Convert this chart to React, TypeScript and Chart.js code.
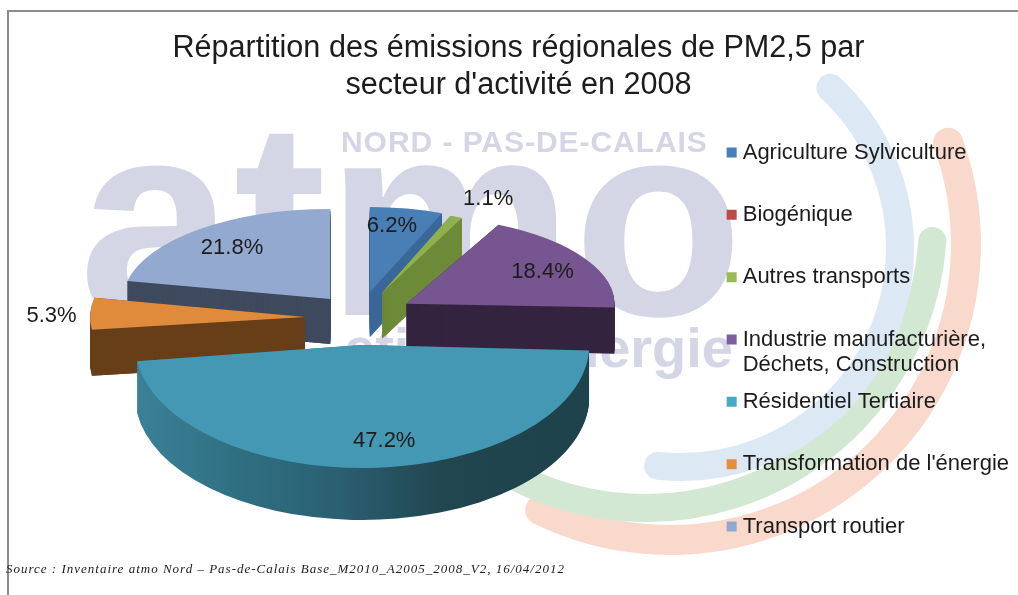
import React, { useEffect, useRef } from "react";
import { Chart, registerables } from "chart.js";

Chart.register(...registerables);

const categories = [
  "Agriculture Sylviculture",
  "Biogénique",
  "Autres transports",
  "Industrie manufacturière,",
  "Résidentiel Tertiaire",
  "Transformation de l'énergie",
  "Transport routier",
];
const legendSecondLine = ["", "", "", "Déchets, Construction", "", "", ""];
const shares = [6.2, 0, 1.1, 18.4, 47.2, 5.3, 21.8];
const shareLabels = ["6.2%", "", "1.1%", "18.4%", "47.2%", "5.3%", "21.8%"];

const titleLines = ["Répartition des émissions régionales de PM2,5 par", "secteur d'activité en 2008"];
const sourceNote = "Source : Inventaire atmo Nord – Pas-de-Calais Base_M2010_A2005_2008_V2, 16/04/2012";

const topColors = ["#4a7fb6", "#be4b48", "#8fb04e", "#775590", "#4498b3", "#e08a3c", "#93a9cf"];
const legendColors = ["#4a7ebb", "#be4b48", "#98b954", "#7d5fa0", "#46aac5", "#e58e3d", "#92a9cf"];
const wallColors = ["#39679a", "#8a3533", "#6d8a38", "#35243f", "#2d6a7f", "#673f18", "#3f4a5e"];
const residentialWallStops = ["#3c8197", "#2f6f82", "#2b5f72", "#214650", "#1f434d"];

// Pie geometry: projected radii, explosion and thickness of each slice.
const sliceRx = [190, 190, 180, 208, 227, 215, 207];
const sliceRy = [85, 85, 83, 88, 123, 97, 90];
const sliceExplode = [51, 51, 54, 54, 52, 55, 47];
const sliceDepth = [45, 45, 46, 46, 52, 46, 45];
const labelFx = [0.6, 0, 1.43, 0.76, 2.2, 1.18, 0.75];
const labelFy = [0.79, 0, 1.24, 0.72, 0.78, 0.4, 0.73];
const SQUASH = 0.52;
const PIE_CENTER = { x: 360, y: 318 };

const FONT = "'Liberation Sans', Arial, sans-serif";
const INK = "#1c1c1c";

const backdrop = {
  id: "backdrop",
  beforeDraw(chart: any) {
    const ctx = chart.ctx;
    ctx.save();
    ctx.lineCap = "round";
    const arcs = [
      { x: 670, y: 244, r: 296, w: 30, a: -20, b: 116, c: "#f9d9cc" },
      { x: 646, y: 221, r: 287, w: 28, a: 4, b: 125, c: "#d2e8d3" },
      { x: 681, y: 248, r: 219, w: 28, a: -47, b: 96, c: "#dce9f5" },
    ];
    for (const a of arcs) {
      ctx.strokeStyle = a.c;
      ctx.lineWidth = a.w;
      ctx.beginPath();
      ctx.arc(a.x, a.y, a.r, (a.a * Math.PI) / 180, (a.b * Math.PI) / 180);
      ctx.stroke();
    }
    ctx.fillStyle = "#d4d6e6";
    ctx.textBaseline = "alphabetic";
    ctx.textAlign = "left";
    ctx.font = `bold 278px ${FONT}`;
    ctx.fillText("atmo", 79, 315);
    ctx.font = `bold 30px ${FONT}`;
    ctx.letterSpacing = "0.95px";
    ctx.fillText("NORD - PAS-DE-CALAIS", 341, 152);
    ctx.letterSpacing = "0px";
    ctx.font = `bold 56px ${FONT}`;
    ctx.fillText("eti", 344, 367);
    ctx.textAlign = "right";
    ctx.fillText("énergie", 733, 367);
    ctx.fillStyle = "#8c8c8c";
    ctx.fillRect(7, 10, 2, 585);
    ctx.fillRect(7, 10, 1011, 2);
    ctx.restore();
  },
};

function sliceGeometry(chart: any) {
  const arcs = chart.getDatasetMeta(0).data;
  const out: any[] = [];
  arcs.forEach((arc: any, i: number) => {
    const p = arc.getProps(["x", "y", "startAngle", "endAngle", "outerRadius"], true);
    if (p.endAngle - p.startAngle <= 0) return;
    const mid = (p.startAngle + p.endAngle) / 2;
    out.push({
      i,
      arc,
      mid,
      start: p.startAngle,
      end: p.endAngle,
      R: p.outerRadius,
      ax: p.x,
      ay: p.y,
      tx: PIE_CENTER.x + sliceExplode[i] * Math.cos(mid),
      ty: PIE_CENTER.y + sliceExplode[i] * SQUASH * Math.sin(mid),
    });
  });
  return out;
}

const pie3d = {
  id: "pie3d",
  beforeDatasetsDraw(chart: any) {
    const ctx = chart.ctx;
    const slices = sliceGeometry(chart).sort((a, b) => Math.sin(a.mid) - Math.sin(b.mid));
    for (const s of slices) {
      const rx = sliceRx[s.i];
      const ry = sliceRy[s.i];
      const depth = sliceDepth[s.i];
      ctx.save();
      let wall: any = wallColors[s.i];
      if (s.i === 4) {
        const g = ctx.createLinearGradient(s.tx - rx, 0, s.tx + rx * 0.8, 0);
        residentialWallStops.forEach((c, k) => g.addColorStop(k / (residentialWallStops.length - 1), c));
        wall = g;
      }
      ctx.fillStyle = wall;
      // Cut faces of the exploded slice, from the tip to each outer corner.
      for (const angle of [s.start, s.end]) {
        const cx = s.tx + rx * Math.cos(angle);
        const cy = s.ty + ry * Math.sin(angle);
        ctx.beginPath();
        ctx.moveTo(s.tx, s.ty);
        ctx.lineTo(cx, cy);
        ctx.lineTo(cx, cy + depth);
        ctx.lineTo(s.tx, s.ty + depth);
        ctx.closePath();
        ctx.fill();
      }
      // Outer rim: the slice outline swept downward.
      for (let d = depth; d >= 1; d -= 1) {
        ctx.beginPath();
        ctx.moveTo(s.tx, s.ty + d);
        ctx.ellipse(s.tx, s.ty + d, rx, ry, 0, s.start, s.end);
        ctx.closePath();
        ctx.fill();
      }
      ctx.restore();
      ctx.save();
      ctx.translate(s.tx, s.ty);
      ctx.scale(rx / s.R, ry / s.R);
      ctx.translate(-s.ax, -s.ay);
      s.arc.draw(ctx);
      ctx.restore();
    }
    ctx.save();
    ctx.fillStyle = INK;
    ctx.font = `22px ${FONT}`;
    ctx.textAlign = "center";
    ctx.textBaseline = "middle";
    for (const s of slices) {
      const text = shareLabels[s.i];
      if (!text) continue;
      ctx.fillText(
        text,
        s.tx + Math.cos(s.mid) * sliceRx[s.i] * labelFx[s.i],
        s.ty + Math.sin(s.mid) * sliceRy[s.i] * labelFy[s.i]
      );
    }
    ctx.restore();
    return false;
  },
};

const notes = {
  id: "notes",
  afterDraw(chart: any) {
    const ctx = chart.ctx;
    ctx.save();
    ctx.fillStyle = INK;
    ctx.textAlign = "left";
    ctx.textBaseline = "middle";
    ctx.font = `22px ${FONT}`;
    chart.legend.legendHitBoxes.forEach((box: any, i: number) => {
      const extra = legendSecondLine[i];
      if (extra) ctx.fillText(extra, box.left + 11.1, box.top + box.height / 2 + 25);
    });
    ctx.font = `italic 13px 'Liberation Serif', serif`;
    ctx.letterSpacing = "1px";
    ctx.fillText(sourceNote, 6, 570);
    ctx.restore();
  },
};

export default function App() {
  const ref = useRef<HTMLCanvasElement>(null);
  useEffect(() => {
    const chart = new Chart(ref.current as HTMLCanvasElement, {
      type: "pie",
      data: {
        labels: categories,
        datasets: [{ data: shares, backgroundColor: topColors, borderWidth: 0 }],
      },
      options: {
        responsive: false,
        animation: false,
        layout: { padding: { top: 0, right: -1, bottom: -84, left: 18 } },
        plugins: {
          tooltip: { enabled: false },
          title: {
            display: true,
            text: titleLines,
            color: INK,
            font: { family: FONT, size: 30.6, weight: "normal", lineHeight: 1.2 },
            padding: { top: 30, bottom: 8 },
          },
          legend: {
            display: true,
            position: "right",
            labels: {
              font: { family: FONT, size: 22 },
              padding: 40.33,
              boxWidth: 0.1,
              boxHeight: 10,
              usePointStyle: true,
              generateLabels: () =>
                categories.map((text, index) => ({
                  text,
                  index,
                  fillStyle: legendColors[index],
                  strokeStyle: legendColors[index],
                  fontColor: INK,
                  lineWidth: 0,
                  pointStyle: "rect",
                  hidden: false,
                })),
            },
          },
        },
      } as any,
      plugins: [backdrop, pie3d, notes],
    });
    return () => chart.destroy();
  }, []);
  return (
    <div style={{ position: "absolute", left: 0, top: 0, width: 1018, height: 595 }}>
      <canvas ref={ref} width={1018} height={595} style={{ display: "block" }} />
    </div>
  );
}
